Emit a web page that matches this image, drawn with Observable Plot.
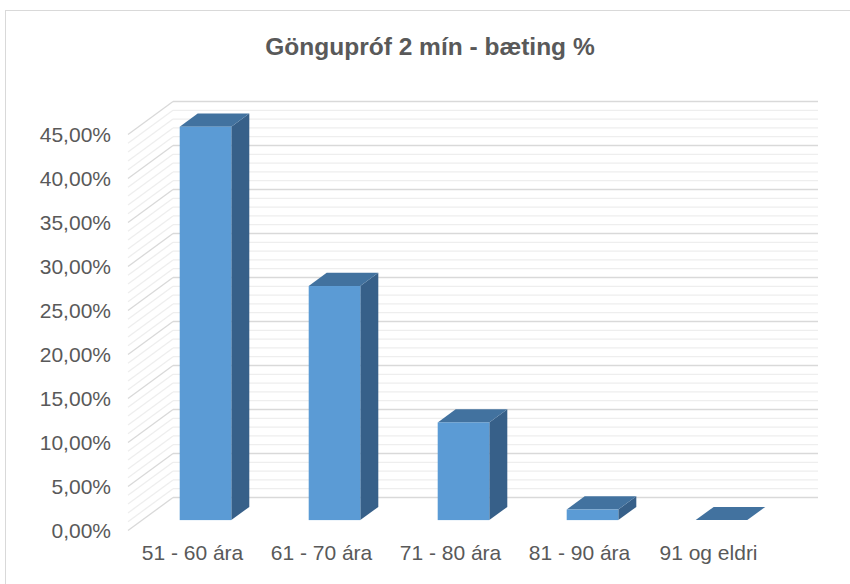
<!DOCTYPE html>
<html>
<head>
<meta charset="utf-8">
<script src="https://cdn.jsdelivr.net/npm/d3@7"></script>
<script src="https://cdn.jsdelivr.net/npm/@observablehq/plot@0.6"></script>
<style>
  html, body { margin: 0; padding: 0; background: #fff; }
  #page { position: relative; width: 850px; height: 584px; overflow: hidden; font-family: "Liberation Sans", Arial, sans-serif; }
  #frame { position: absolute; left: 5px; top: 10px; width: 1000px; height: 1000px; border: 1px solid #d9d9d9; box-sizing: border-box; pointer-events: none; }
  #title { position: relative; height: 70px; box-sizing: border-box; padding-top: 33px; padding-left: 10px; line-height: 28px; text-align: center; font-size: 24.5px; font-weight: bold; color: #595959; }
  #chart svg { display: block; }
</style>
</head>
<body>
<div id="page">
  <div id="frame"></div>
  <div id="title">Göngupróf 2 mín - bæting %</div>
  <div id="chart"></div>
</div>
<script>
// ---- data ----
const categories = ["51 - 60 ára", "61 - 70 ára", "71 - 80 ára", "81 - 90 ára", "91 og eldri"];
const values = [44.7, 26.6, 11.1, 1.2, 0];
const yTicks = [0, 5, 10, 15, 20, 25, 30, 35, 40, 45];
const yTickLabels = ["0,00%", "5,00%", "10,00%", "15,00%", "20,00%", "25,00%", "30,00%", "35,00%", "40,00%", "45,00%"];
const minorTicks = [1,2,3,4,6,7,8,9,11,12,13,14,16,17,18,19,21,22,23,24,26,27,28,29,31,32,33,34,36,37,38,39,41,42,43,44];

// ---- oblique 3D projection (depth vector in data units) ----
const kx = 45 / 129;   // depth shift along x (category slots)
const ky = 33 / 8.8;   // depth shift along y (percent)
const dFront = 0.3, dBack = 0.7;   // bar depth position (fraction of full depth)
const gap = 0.3;                   // bar inset inside a slot

const n = categories.length;

const gridAll = [...minorTicks.map(t => ({t, major: false})), ...yTicks.map(t => ({t, major: true}))];
const sideWall = gridAll.map(d => ({...d, x1: 0, y1: d.t, x2: kx, y2: d.t + ky}));
const backWall = gridAll.map(d => ({...d, x1: kx, y1: d.t + ky, x2: n + kx, y2: d.t + ky}));

const barFront = values.map((v, i) => ({
  i, x1: i + gap + dFront * kx, x2: i + 1 - gap + dFront * kx, y1: dFront * ky, y2: v + dFront * ky
}));
const barSide = values.flatMap((v, i) => [
  {i, x: i + 1 - gap + dFront * kx, y1: dFront * ky, y2: v + dFront * ky},
  {i, x: i + 1 - gap + dBack * kx, y1: dBack * ky, y2: v + dBack * ky}
]);
const barTop = values.flatMap((v, i) => [
  {i, y: v + dFront * ky, x1: i + gap + dFront * kx, x2: i + 1 - gap + dFront * kx},
  {i, y: v + dBack * ky, x1: i + gap + dBack * kx, x2: i + 1 - gap + dBack * kx}
]);
const yLabels = yTicks.map((t, j) => ({t, x: 0, label: yTickLabels[j]}));
const xLabels = categories.map((c, i) => ({c, x: i + 0.5, y: 0}));

const chart = Plot.plot({
  width: 850,
  height: 514,
  style: {background: "transparent", fontFamily: "'Liberation Sans', Arial, sans-serif"},
  x: {type: "linear", domain: [0, n], range: [127.5, 772.5], axis: null},
  y: {type: "linear", domain: [0, 45], range: [460, 64], axis: null},
  marks: [
    Plot.link(sideWall.filter(d => !d.major), {x1: "x1", y1: "y1", x2: "x2", y2: "y2", stroke: "#eeeeee", strokeWidth: 1.3}),
    Plot.link(backWall.filter(d => !d.major), {x1: "x1", y1: "y1", x2: "x2", y2: "y2", stroke: "#eeeeee", strokeWidth: 1.3}),
    Plot.link(sideWall.filter(d => d.major), {x1: "x1", y1: "y1", x2: "x2", y2: "y2", stroke: "#d9d9d9", strokeWidth: 1.3}),
    Plot.link(backWall.filter(d => d.major), {x1: "x1", y1: "y1", x2: "x2", y2: "y2", stroke: "#d9d9d9", strokeWidth: 1.3}),
    Plot.area(barSide, {x1: "x", y1: "y1", y2: "y2", z: "i", fill: "#376089"}),
    Plot.area(barTop, {y1: "y", x1: "x1", x2: "x2", z: "i", fill: "#42729f"}),
    Plot.rect(barFront, {x1: "x1", x2: "x2", y1: "y1", y2: "y2", fill: "#5b9bd5"}),
    Plot.text(yLabels, {x: "x", y: "t", text: "label", textAnchor: "end", dx: -17, dy: 1, fontSize: 21, fill: "#595959"}),
    Plot.text(xLabels, {x: "x", y: "y", text: "c", dy: 23, fontSize: 21, fill: "#595959"})
  ]
});
document.getElementById("chart").appendChild(chart);
</script>
</body>
</html>
